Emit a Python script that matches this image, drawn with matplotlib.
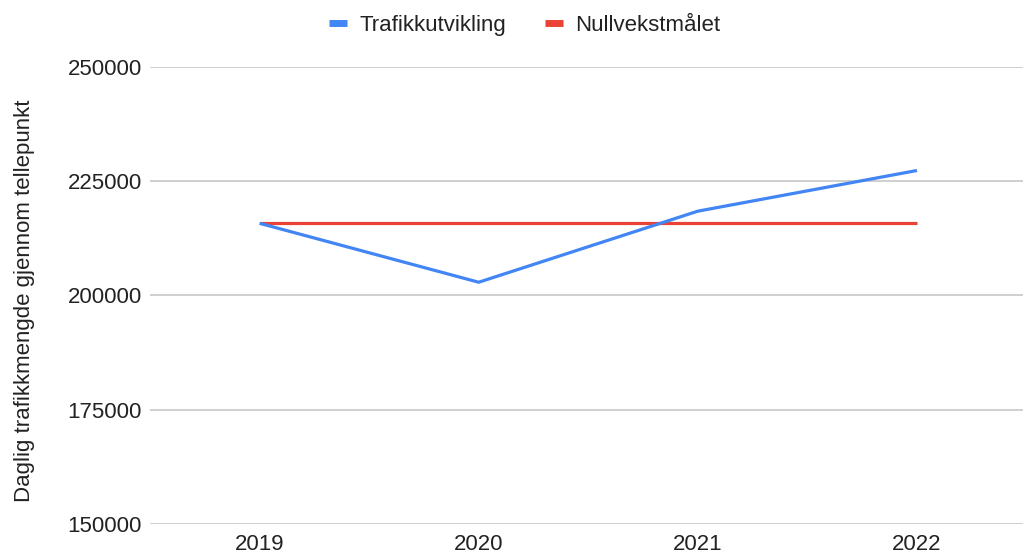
import matplotlib.pyplot as plt
from matplotlib.lines import Line2D

# Data
years = ['2019', '2020', '2021', '2022']
trafikk = [215800, 202900, 218450, 227350]
nullvekst = [215800, 215800, 215800, 215800]
y_ticks = [150000, 175000, 200000, 225000, 250000]

blue = '#4285F4'
red = '#EA4335'

plt.rcParams['font.family'] = ['Liberation Sans', 'DejaVu Sans']

fig = plt.figure(figsize=(10.23, 5.55), dpi=100)
ax = fig.add_axes([0.1466, 0.0559, 0.8534, 0.8234])

x = range(len(years))
ax.plot(x, nullvekst, color=red, lw=2.3, solid_capstyle='butt', zorder=3)
ax.plot(x, trafikk, color=blue, lw=2.3, solid_capstyle='butt', zorder=4)

ax.set_xlim(-0.5, 3.484)
ax.set_ylim(150000, 250000)
ax.set_yticks(y_ticks)
ax.set_yticklabels([str(v) for v in y_ticks])
ax.set_xticks(list(x))
ax.set_xticklabels(years)
ax.grid(axis='y', color='#cccccc', lw=1.3)
ax.set_axisbelow(True)
for s in ax.spines.values():
    s.set_visible(False)
ax.tick_params(axis='both', length=0, labelsize=16, colors='#222222')
ax.tick_params(axis='y', pad=6)
ax.tick_params(axis='x', pad=7)

fig.text(0.024, 0.458, 'Daglig trafikkmengde gjennom tellepunkt', rotation=90,
         ha='center', va='center', fontsize=16, color='#222222')

handles = [Line2D([], [], color=blue, lw=5, solid_capstyle='butt'),
           Line2D([], [], color=red, lw=5, solid_capstyle='butt')]
fig.legend(handles, ['Trafikkutvikling', 'Nullvekstmålet'], loc='center',
           bbox_to_anchor=(0.513, 0.954), ncol=2, frameon=False, fontsize=16,
           handlelength=0.8, handletextpad=0.55, columnspacing=1.75,
           labelcolor='#222222')

fig.savefig('out.png', dpi=100)
